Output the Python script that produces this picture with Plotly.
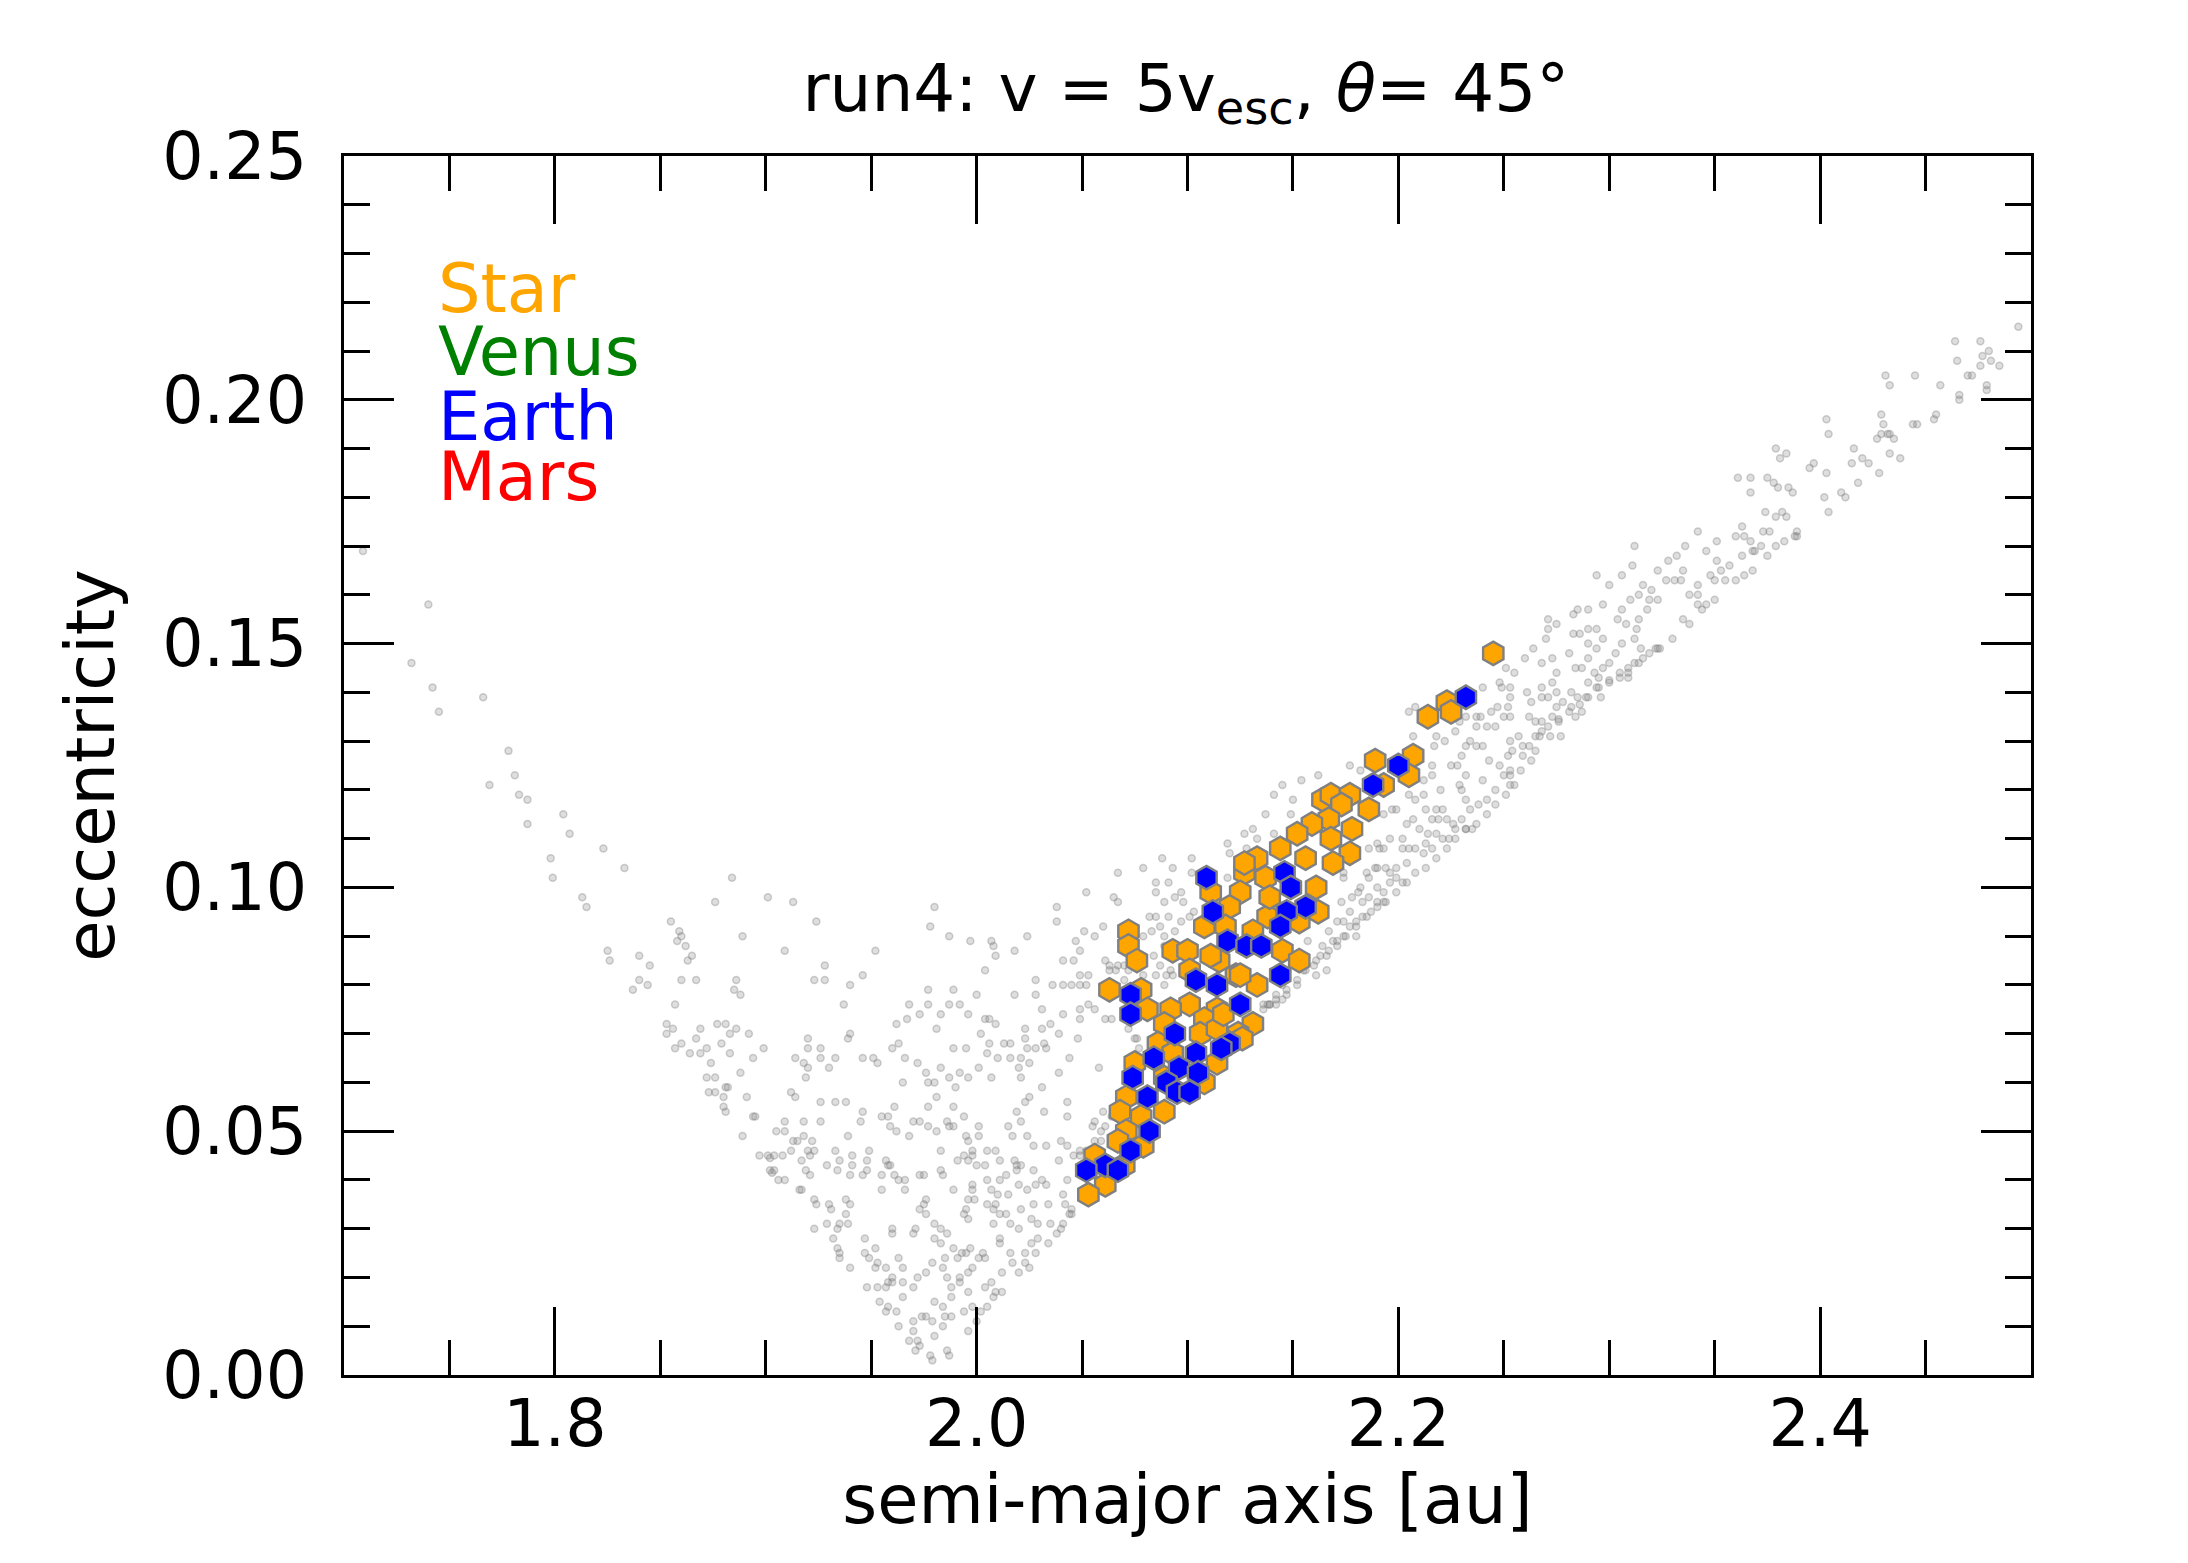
import plotly.graph_objects as go

# ---------------- data (semi-major axis [au], eccentricity) ----------------
gray_left_arm = [
    (1.709,0.169),(1.740,0.158),(1.732,0.146),(1.742,0.141),(1.766,0.139),(1.745,0.136),
    (1.778,0.128),(1.781,0.123),(1.769,0.121),(1.783,0.119),(1.787,0.118),(1.804,0.115),
    (1.787,0.113),(1.807,0.111),(1.823,0.108),(1.798,0.106),(1.799,0.102),(1.833,0.104),
    (1.884,0.102),(1.813,0.098),(1.815,0.096),(1.876,0.097),(1.901,0.098),(1.913,0.097),
    (1.924,0.093),(1.855,0.093),(1.859,0.091),(1.860,0.090),(1.858,0.089),(1.862,0.088),
    (1.889,0.090),(1.909,0.087),(1.952,0.087),(1.825,0.087),(1.826,0.085),(1.840,0.086),
    (1.865,0.086),(1.863,0.085),(1.845,0.084),(1.928,0.084),(1.840,0.081),(1.860,0.081),
    (1.867,0.081),(1.886,0.081),(1.923,0.081),(1.928,0.081),(1.946,0.082),(1.837,0.079),
    (1.844,0.080),(1.940,0.080),(1.885,0.079),(1.888,0.078),(1.857,0.076),(1.937,0.076),
]

gray_bottom = [
    (1.968,0.076),(1.973,0.074),(1.977,0.076),(1.967,0.073),(1.962,0.072),(1.983,0.074),
    (1.987,0.076),(1.992,0.076),(1.996,0.074),(2.004,0.073),(2.009,0.072),(2.006,0.073),
    (2.031,0.075),(2.035,0.072),(2.031,0.071),(2.023,0.071),(1.981,0.071),(1.853,0.072),
    (1.856,0.071),(1.853,0.070),(1.869,0.071),(1.877,0.072),(1.881,0.072),(1.886,0.071),
    (1.883,0.070),(1.892,0.070),(2.002,0.070),
    (1.857,0.067),(1.860,0.068),(1.864,0.066),(1.867,0.069),(1.872,0.067),(1.869,0.066),
    (1.879,0.068),(1.883,0.066),(1.874,0.064),(1.894,0.065),(1.899,0.067),(1.920,0.069),
    (1.920,0.067),(1.926,0.067),(1.926,0.065),(1.914,0.065),(1.918,0.064),(1.920,0.063),
    (1.930,0.063),(1.933,0.065),(1.939,0.069),(1.940,0.070),(1.946,0.065),(1.951,0.065),
    (1.953,0.064),(1.960,0.067),(1.963,0.068),(1.966,0.065),(1.972,0.064),(1.989,0.067),
    (1.995,0.067),(2.006,0.068),(2.005,0.066),(2.010,0.065),(2.013,0.068),(2.016,0.068),
    (2.023,0.069),(2.024,0.067),(2.028,0.067),(2.033,0.067),(2.016,0.065),(2.021,0.065),
    (2.025,0.064),(2.032,0.068),
    (1.872,0.061),(1.876,0.061),(1.881,0.059),(1.888,0.062),(1.882,0.059),(1.873,0.058),
    (1.876,0.058),(1.880,0.057),(1.891,0.057),(1.919,0.061),(1.912,0.058),(1.914,0.057),
    (1.976,0.062),(1.977,0.060),(1.980,0.060),(1.983,0.063),(1.987,0.061),(1.990,0.059),
    (1.992,0.062),(1.996,0.061),(2.001,0.063),(2.007,0.061),(2.020,0.063),(2.021,0.061),
    (1.965,0.060),(1.981,0.057),(2.031,0.059),(2.025,0.057),
    (1.880,0.055),(1.881,0.054),(1.894,0.053),(1.895,0.053),(1.889,0.049),(1.909,0.052),
    (1.918,0.052),(1.926,0.052),(1.926,0.056),(1.933,0.056),(1.938,0.056),(1.945,0.052),
    (1.946,0.054),(1.955,0.053),(1.958,0.053),(1.959,0.051),(1.961,0.055),(1.962,0.050),
    (1.968,0.049),(1.977,0.055),(1.989,0.055),(1.970,0.052),(1.973,0.052),(1.977,0.051),
    (1.981,0.050),(1.986,0.052),(1.987,0.051),(1.989,0.051),(1.994,0.053),(2.001,0.051),
    (2.019,0.054),(2.021,0.052),(2.015,0.051),(2.017,0.049),(2.024,0.049),(2.023,0.056),
    (2.032,0.054),(1.939,0.049),
    (1.905,0.050),(1.909,0.050),(1.913,0.048),(1.915,0.048),(1.918,0.049),(1.922,0.048),
    (1.923,0.046),(1.920,0.046),(1.921,0.045),(1.917,0.044),(1.897,0.045),(1.904,0.045),
    (1.901,0.045),(1.902,0.0445),(1.908,0.045),(1.912,0.046),(1.933,0.046),(1.941,0.045),
    (1.949,0.046),(1.948,0.044),(1.957,0.044),(1.983,0.046),(1.995,0.049),(1.996,0.048),
    (1.998,0.046),(1.998,0.045),(2.001,0.049),(2.005,0.046),(2.009,0.046),(2.011,0.044),
    (2.018,0.044),(2.027,0.047),(2.033,0.047),(1.991,0.044),(1.996,0.044),(1.994,0.045),
    (1.902,0.042),(1.904,0.042),(1.903,0.0415),(1.906,0.040),(1.909,0.040),(1.919,0.042),
    (1.921,0.041),(1.929,0.043),(1.934,0.042),(1.935,0.044),(1.941,0.043),(1.940,0.041),
    (1.946,0.041),(1.948,0.042),(1.955,0.041),(1.958,0.043),(1.959,0.043),(1.961,0.041),
    (1.963,0.040),(1.966,0.040),(1.975,0.041),(1.973,0.041),(1.983,0.042),(1.984,0.041),
    (2.000,0.043),(2.004,0.043),(2.005,0.040),(2.011,0.040),(2.014,0.041),(2.019,0.043),
    (2.021,0.043),(2.019,0.042),(2.027,0.042),(1.989,0.038),(1.955,0.038),(1.966,0.038),
    (1.998,0.039),(1.998,0.038),(2.007,0.038),(2.010,0.037),(2.015,0.037),(2.020,0.039),
    (2.024,0.038),(2.028,0.039),(2.031,0.040),(2.033,0.039),(1.916,0.038),(1.917,0.038),
    (1.923,0.036),(1.924,0.035),(1.930,0.035),(1.931,0.034),(1.938,0.036),(1.940,0.035),
    (1.938,0.033),(1.976,0.036),(1.973,0.034),(1.975,0.035),(1.995,0.034),(1.996,0.036),
    (1.999,0.036),(1.994,0.033),(1.996,0.032),(2.005,0.035),(2.008,0.034),(2.009,0.035),
    (2.011,0.033),(2.014,0.033),(2.021,0.034),(2.027,0.035),(2.034,0.035),(1.923,0.030),
    (1.929,0.031),(1.935,0.031),(1.939,0.031),(1.976,0.033),(1.980,0.031),(1.960,0.030),
    (1.971,0.030),(2.008,0.031),(2.016,0.031),(2.020,0.030),(2.026,0.032),(2.029,0.031),
    (2.035,0.031),
    (1.934,0.030),(1.932,0.028),(1.947,0.028),(1.960,0.029),(1.970,0.029),(1.983,0.030),
    (1.986,0.029),(1.980,0.028),(1.983,0.027),(1.934,0.026),(1.935,0.025),(1.935,0.024),
    (1.947,0.025),(1.949,0.024),(1.952,0.026),(1.953,0.023),(1.963,0.024),(1.989,0.026),
    (1.993,0.025),(1.995,0.025),(1.997,0.026),(2.001,0.024),(2.003,0.025),(2.004,0.024),
    (2.011,0.028),(2.011,0.027),(2.016,0.025),(2.023,0.025),(2.026,0.027),(2.028,0.025),
    (2.029,0.028),(2.034,0.027),(1.985,0.024),(1.991,0.024),
    (1.940,0.022),(1.952,0.022),(1.957,0.022),(1.965,0.022),(1.960,0.020),(1.958,0.019),
    (1.976,0.021),(1.979,0.023),(1.984,0.022),(1.986,0.020),(1.992,0.020),(1.996,0.021),
    (1.998,0.022),(2.012,0.021),(2.017,0.023),(2.020,0.021),(2.023,0.023),(2.025,0.022),
    (1.948,0.018),(1.953,0.018),(1.957,0.018),(1.960,0.019),(1.965,0.019),(1.970,0.018),
    (1.972,0.020),(1.988,0.018),(1.992,0.019),(1.996,0.017),(2.004,0.018),(2.007,0.019),
    (2.009,0.017),(2.012,0.017),(2.008,0.016),
    (1.954,0.015),(1.958,0.014),(1.957,0.013),(1.962,0.013),(1.965,0.016),(1.980,0.015),
    (1.984,0.014),(1.988,0.016),(1.994,0.013),(1.998,0.014),(2.002,0.013),(2.005,0.014),
    (1.963,0.010),(1.970,0.011),(1.974,0.012),(1.976,0.012),(1.979,0.011),(1.985,0.012),
    (1.988,0.012),(1.984,0.010),(1.970,0.009),(1.996,0.009),(2.000,0.011),
    (1.968,0.007),(1.972,0.007),(1.973,0.006),(1.971,0.005),(1.980,0.008),(1.986,0.005),
    (1.987,0.004),(1.978,0.004),(1.979,0.003),
]

gray_middle = [
    (2.088,0.106),(2.079,0.104),(2.093,0.104),(2.067,0.103),(2.085,0.101),(2.091,0.101),
    (2.052,0.099),(2.085,0.099),(2.065,0.098),(2.067,0.097),(2.089,0.097),(2.094,0.098),
    (1.980,0.096),(2.038,0.096),(2.038,0.093),(1.978,0.092),(1.987,0.090),(1.997,0.089),
    (2.007,0.089),(2.008,0.088),(2.009,0.086),(2.018,0.087),(2.024,0.090),(2.051,0.091),
    (2.047,0.089),(2.056,0.090),(2.060,0.092),(2.082,0.094),(2.085,0.094),(2.091,0.094),
    (2.087,0.092),(2.083,0.091),(2.089,0.090),(2.079,0.090),(2.049,0.087),(2.041,0.085),
    (2.046,0.085),(2.061,0.085),(2.063,0.084),(2.067,0.084),(2.070,0.084),(2.072,0.083),
    (2.084,0.086),(2.087,0.084),(2.092,0.083),(2.090,0.082),(2.093,0.082),(2.004,0.083),
    (2.028,0.081),(2.036,0.080),(2.041,0.080),(2.045,0.080),(2.049,0.080),(2.052,0.080),
    (2.053,0.082),(2.049,0.082),(2.063,0.083),(2.066,0.083),(2.070,0.081),(2.079,0.082),
    (2.085,0.082),(2.089,0.080),(1.977,0.079),(1.989,0.079),(2.000,0.078),(2.018,0.078),
    (2.028,0.078),(2.094,0.091),(2.089,0.088),
]

gray_lower_band = [
    (2.041,0.074),(2.049,0.075),(2.053,0.076),(2.056,0.075),(2.061,0.073),(2.064,0.073),
    (2.049,0.073),(2.048,0.069),(2.039,0.070),(2.044,0.065),(2.058,0.063),(2.039,0.062),
    (2.072,0.071),(2.075,0.069),(2.077,0.067),(2.076,0.069),(2.043,0.056),(2.043,0.053),
    (2.060,0.054),(2.056,0.052),(2.055,0.051),(2.059,0.050),(2.061,0.051),(2.064,0.053),
    (2.040,0.048),(2.043,0.047),(2.049,0.046),(2.052,0.046),(2.059,0.048),(2.056,0.048),
    (2.046,0.045),(2.049,0.045),(2.039,0.044),(2.043,0.040),(2.041,0.037),(2.045,0.034),
    (2.045,0.033),(2.044,0.033),(2.040,0.030),(2.038,0.029),(2.142,0.076),(2.139,0.076),
    (2.136,0.075),(2.145,0.077),(2.041,0.031),(2.042,0.035),
]

gray_band = [
    (2.251,0.145),(2.255,0.144),(2.240,0.141),(2.248,0.142),(2.249,0.141),(2.253,0.141),
    (2.253,0.139),(2.252,0.137),(2.247,0.137),(2.244,0.136),(2.239,0.135),(2.250,0.135),
    (2.253,0.135),(2.205,0.136),(2.208,0.137),(2.237,0.135),(2.232,0.135),(2.229,0.134),
    (2.227,0.132),(2.237,0.133),(2.242,0.133),(2.246,0.133),(2.207,0.131),(2.218,0.131),
    (2.217,0.129),(2.222,0.130),(2.234,0.130),(2.237,0.129),(2.232,0.129),(2.230,0.127),
    (2.240,0.129),(2.253,0.130),(2.243,0.126),(2.248,0.125),(2.252,0.127),(2.254,0.128),
    (2.253,0.124),(2.250,0.123),(2.253,0.123),(2.240,0.122),(2.232,0.123),(2.229,0.121),
    (2.230,0.120),(2.232,0.118),(2.225,0.125),(2.228,0.125),(2.216,0.125),(2.216,0.123),
    (2.212,0.122),(2.220,0.120),(2.212,0.119),(2.205,0.119),(2.208,0.118),(2.199,0.116),
    (2.197,0.116),(2.207,0.114),(2.213,0.116),(2.218,0.116),(2.221,0.116),(2.216,0.114),
    (2.219,0.114),(2.223,0.114),(2.226,0.113),(2.230,0.114),(2.234,0.116),(2.238,0.117),
    (2.242,0.118),(2.246,0.120),(2.253,0.121),(2.235,0.112),(2.232,0.112),(2.227,0.112),
    (2.224,0.110),(2.218,0.111),(2.214,0.111),(2.210,0.112),(2.204,0.113),(2.193,0.115),
    (2.196,0.110),(2.191,0.108),(2.186,0.108),(2.193,0.108),(2.202,0.110),(2.205,0.108),
    (2.208,0.108),(2.212,0.107),(2.213,0.109),(2.216,0.108),(2.221,0.110),(2.204,0.105),
    (2.199,0.104),(2.194,0.104),(2.190,0.104),(2.196,0.103),(2.199,0.102),(2.202,0.101),
    (2.196,0.101),(2.193,0.099),(2.190,0.100),(2.186,0.102),(2.182,0.100),(2.181,0.099),
    (2.178,0.098),(2.186,0.098),(2.190,0.097),(2.187,0.095),(2.183,0.094),(2.177,0.095),
    (2.174,0.093),(2.171,0.093),(2.180,0.093),(2.177,0.092),(2.174,0.090),(2.169,0.089),
    (2.167,0.091),(2.164,0.088),(2.163,0.086),(2.160,0.084),(2.167,0.087),(2.171,0.089),
    (2.183,0.097),(2.193,0.097),(2.180,0.090),(2.173,0.097),(2.174,0.102),(2.174,0.103),
    (2.185,0.103),(2.189,0.104),(2.177,0.125),(2.182,0.124),(2.162,0.123),(2.154,0.122),
    (2.145,0.121),(2.141,0.119),(2.150,0.118),(2.137,0.115),(2.149,0.115),(2.131,0.112),
    (2.127,0.111),(2.141,0.111),(2.133,0.110),(2.128,0.108),(2.119,0.109),(2.120,0.107),
    (2.102,0.106),(2.102,0.103),(2.119,0.102),(2.097,0.099),(2.098,0.097),(2.103,0.095),
    (2.101,0.094),(2.097,0.093),(2.157,0.089),(2.166,0.083),(2.161,0.082),(2.155,0.083),
    (2.147,0.078),(2.142,0.078),(2.139,0.076),(2.136,0.076),(2.145,0.080),(2.152,0.080),
    (2.190,0.109),(2.202,0.108),
    (2.138,0.076),(2.142,0.077),(2.147,0.079),(2.152,0.081),(2.156,0.083),(2.161,0.085),
    (2.166,0.086),(2.171,0.088),(2.175,0.090),(2.180,0.092),(2.185,0.094),(2.190,0.096),
    (2.194,0.097),(2.199,0.099),(2.204,0.101),(2.208,0.103),(2.213,0.104),(2.218,0.106),
    (2.223,0.108),(2.227,0.110),(2.232,0.112),(2.237,0.113),(2.242,0.115),(2.246,0.117),
    (2.251,0.119),(2.255,0.121),
]

gray_upper_band = [
    (2.342,0.173),(2.312,0.170),(2.363,0.174),(2.364,0.172),(2.360,0.172),(2.367,0.171),
    (2.351,0.171),(2.336,0.170),(2.346,0.169),(2.351,0.167),(2.332,0.168),(2.328,0.167),
    (2.323,0.165),(2.335,0.165),(2.334,0.163),(2.327,0.163),(2.331,0.163),(2.294,0.164),
    (2.300,0.162),(2.311,0.166),(2.306,0.164),(2.357,0.166),(2.353,0.165),(2.348,0.164),
    (2.342,0.162),(2.338,0.160),(2.342,0.160),(2.350,0.163),(2.355,0.163),(2.360,0.163),
    (2.364,0.164),(2.368,0.165),(2.363,0.168),(2.368,0.169),(2.316,0.162),(2.320,0.161),
    (2.314,0.160),(2.323,0.159),(2.319,0.159),(2.310,0.159),(2.306,0.157),(2.304,0.155),
    (2.308,0.154),(2.314,0.155),(2.313,0.153),(2.318,0.157),(2.330,0.151),(2.335,0.155),
    (2.338,0.154),(2.344,0.157),(2.346,0.158),(2.342,0.158),(2.350,0.159),(2.297,0.158),
    (2.290,0.157),(2.285,0.157),(2.283,0.156),(2.271,0.155),(2.275,0.154),(2.271,0.153),
    (2.290,0.153),(2.294,0.153),(2.283,0.152),(2.286,0.152),(2.270,0.151),(2.290,0.150),
    (2.297,0.151),(2.294,0.149),(2.306,0.150),(2.312,0.151),(2.315,0.149),(2.322,0.149),
    (2.324,0.149),(2.316,0.147),(2.312,0.146),(2.309,0.144),(2.303,0.148),(2.300,0.146),
    (2.297,0.145),(2.290,0.147),(2.281,0.148),(2.273,0.147),(2.268,0.146),(2.264,0.149),
    (2.260,0.147),(2.275,0.144),(2.273,0.142),(2.268,0.141),(2.268,0.139),(2.271,0.139),
    (2.275,0.140),(2.284,0.145),(2.287,0.145),(2.293,0.144),(2.295,0.143),(2.300,0.142),
    (2.305,0.143),(2.309,0.143),(2.282,0.140),(2.285,0.139),(2.282,0.137),(2.284,0.135),
    (2.287,0.136),(2.289,0.139),(2.296,0.139),(2.290,0.142),(2.294,0.141),(2.278,0.138),
    (2.275,0.137),(2.261,0.140),(2.263,0.138),(2.262,0.135),(2.265,0.134),(2.268,0.134),
    (2.273,0.135),(2.276,0.134),(2.277,0.131),(2.272,0.131),(2.268,0.132),(2.265,0.131),
    (2.262,0.129),(2.259,0.129),(2.265,0.128),(2.263,0.126),(2.258,0.124),(2.259,0.127),
    (2.257,0.131),
    (2.267,0.131),(2.271,0.133),(2.276,0.1345),(2.281,0.136),(2.286,0.1375),(2.290,0.139),
    (2.295,0.141),(2.300,0.1425),(2.305,0.144),(2.309,0.145),(2.314,0.146),(2.319,0.148),
    (2.323,0.149),
]

gray_top_band = [
    (2.494,0.215),(2.464,0.212),(2.476,0.212),(2.480,0.210),(2.465,0.208),(2.477,0.209),
    (2.476,0.207),(2.481,0.208),(2.485,0.207),(2.470,0.205),(2.472,0.205),(2.479,0.203),
    (2.479,0.202),(2.466,0.201),(2.466,0.200),(2.457,0.203),(2.445,0.205),(2.431,0.205),
    (2.433,0.203),(2.429,0.197),(2.430,0.195),(2.455,0.197),(2.454,0.196),(2.446,0.195),
    (2.444,0.195),(2.429,0.193),(2.432,0.193),(2.433,0.193),(2.427,0.192),(2.435,0.192),
    (2.403,0.196),(2.404,0.193),(2.416,0.190),(2.415,0.187),(2.420,0.188),(2.423,0.187),
    (2.433,0.189),(2.438,0.188),(2.428,0.185),(2.418,0.183),(2.379,0.190),(2.381,0.188),
    (2.384,0.189),(2.397,0.187),(2.395,0.186),(2.403,0.185),(2.361,0.184),(2.367,0.184),
    (2.367,0.181),(2.375,0.184),(2.378,0.183),(2.380,0.182),(2.385,0.182),(2.387,0.181),
    (2.402,0.180),(2.410,0.181),(2.412,0.180),(2.404,0.177),(2.374,0.177),(2.382,0.177),
    (2.379,0.176),(2.384,0.176),(2.389,0.173),(2.388,0.172),(2.389,0.172),(2.383,0.171),
    (2.379,0.170),(2.375,0.168),(2.376,0.173),(2.373,0.173),(2.372,0.170),(2.369,0.169),
]

star_points = [
    (2.072,0.091),(2.072,0.088),(2.076,0.085),(2.093,0.087),(2.063,0.079),(2.078,0.079),
    (2.245,0.148),(2.214,0.135),(2.223,0.138),(2.225,0.136),(2.189,0.126),(2.207,0.127),
    (2.205,0.123),(2.193,0.121),(2.164,0.118),(2.168,0.119),(2.177,0.119),(2.173,0.117),
    (2.186,0.116),(2.167,0.114),(2.159,0.113),(2.178,0.112),(2.168,0.110),(2.177,0.107),
    (2.152,0.111),(2.144,0.108),(2.156,0.106),(2.169,0.105),(2.133,0.106),(2.127,0.103),
    (2.137,0.102),(2.161,0.100),(2.125,0.099),(2.111,0.099),(2.120,0.096),(2.162,0.095),
    (2.138,0.094),(2.153,0.093),(2.108,0.092),(2.131,0.091),(2.145,0.087),(2.153,0.085),
    (2.115,0.085),(2.100,0.087),(2.123,0.082),(2.133,0.080),(2.101,0.076),(2.114,0.075),
    (2.081,0.075),(2.092,0.075),(2.108,0.073),(2.131,0.072),(2.089,0.072),(2.106,0.070),
    (2.114,0.071),(2.124,0.070),(2.086,0.068),(2.093,0.066),(2.114,0.064),(2.075,0.064),
    (2.089,0.061),(2.108,0.060),(2.071,0.057),(2.068,0.054),(2.078,0.053),(2.089,0.054),
    (2.071,0.050),(2.067,0.048),(2.079,0.047),(2.056,0.045),(2.061,0.039),(2.053,0.037),
    (2.070,0.043),
    (2.118,0.092),(2.111,0.086),(2.101,0.083),(2.117,0.074),(2.126,0.069),(2.125,0.082),
    (2.139,0.098),(2.127,0.105),
]

earth_points = [
    (2.073,0.078),(2.232,0.139),(2.200,0.125),(2.188,0.121),(2.146,0.103),(2.149,0.100),
    (2.109,0.102),(2.112,0.095),(2.156,0.096),(2.147,0.095),(2.144,0.092),(2.119,0.089),
    (2.128,0.088),(2.135,0.088),(2.144,0.082),(2.104,0.081),(2.114,0.080),(2.125,0.076),
    (2.073,0.074),(2.094,0.070),(2.120,0.068),(2.116,0.067),(2.104,0.066),(2.084,0.065),
    (2.096,0.063),(2.105,0.062),(2.074,0.061),(2.090,0.060),(2.095,0.058),(2.101,0.058),
    (2.081,0.057),(2.082,0.050),(2.073,0.046),(2.061,0.043),(2.052,0.042),(2.067,0.042),
]

venus_points = []
mars_points = []

legend_labels = ["Star", "Venus", "Earth", "Mars"]
legend_colors = ["orange", "green", "blue", "red"]

x_ticks = [1.8, 2.0, 2.2, 2.4]
y_ticks = [0.00, 0.05, 0.10, 0.15, 0.20, 0.25]

# ---------------- figure ----------------
FONT = "DejaVu Sans"
gray_all = (gray_left_arm + gray_bottom + gray_middle + gray_lower_band
            + gray_band + gray_upper_band + gray_top_band)

fig = go.Figure()
fig.add_trace(go.Scatter(
    x=[p[0] for p in gray_all], y=[p[1] for p in gray_all], mode="markers",
    marker=dict(size=7, color="rgba(128,128,128,0.26)",
                line=dict(color="rgba(128,128,128,0.36)", width=1.5)),
    showlegend=False, hoverinfo="skip"))

def hex_trace(points, color):
    return go.Scatter(
        x=[p[0] for p in points], y=[p[1] for p in points], mode="markers",
        marker=dict(symbol="hexagon", size=23.5, color=color,
                    line=dict(color="gray", width=2.4)),
        showlegend=False)

if venus_points:
    fig.add_trace(hex_trace(venus_points, "green"))
if mars_points:
    fig.add_trace(hex_trace(mars_points, "red"))
fig.add_trace(hex_trace(star_points, "orange"))
fig.add_trace(hex_trace(earth_points, "blue"))

legend_y = [0.8913, 0.8392, 0.7863, 0.7367]
for lab, col, yy in zip(legend_labels, legend_colors, legend_y):
    fig.add_annotation(x=0.0548, y=yy, xref="paper", yref="paper", text=lab,
                       showarrow=False, xanchor="left", yanchor="middle",
                       height=60, valign="middle",
                       font=dict(family=FONT, size=67, color=col))

fig.update_layout(
    width=2188, height=1563, autosize=False,
    margin=dict(l=344, r=157, t=156, b=188),
    paper_bgcolor="white", plot_bgcolor="white",
    font=dict(family=FONT, size=67, color="black"),
    title=dict(text="run4: v = 5v<sub>esc</sub>, <i>θ</i>= 45°",
               x=0.542, xanchor="center", y=0.944, yanchor="middle",
               font=dict(family=FONT, size=66, color="black")),
)
fig.update_xaxes(
    range=[1.7, 2.5], tickvals=x_ticks, tickformat=".1f",
    showline=True, linecolor="black", linewidth=3, mirror="ticks",
    ticks="inside", ticklen=68, tickwidth=3, tickcolor="black",
    minor=dict(dtick=0.05, tick0=1.7, ticks="inside", ticklen=35, tickwidth=3,
               tickcolor="black", showgrid=False),
    showgrid=False, zeroline=False, ticklabelstandoff=-10,
    tickfont=dict(family=FONT, size=65, color="black"),
    title=dict(text="semi-major axis [au]", standoff=0,
               font=dict(family=FONT, size=67, color="black")),
)
fig.update_yaxes(
    range=[0, 0.25], tickvals=y_ticks, tickformat=".2f",
    showline=True, linecolor="black", linewidth=3, mirror="ticks",
    ticks="inside", ticklen=50, tickwidth=3, tickcolor="black",
    minor=dict(dtick=0.01, tick0=0, ticks="inside", ticklen=26, tickwidth=3,
               tickcolor="black", showgrid=False),
    showgrid=False, zeroline=False, ticklabelstandoff=21,
    tickfont=dict(family=FONT, size=65, color="black"),
    title=dict(text="eccentricity", standoff=26,
               font=dict(family=FONT, size=67, color="black")),
)

fig.write_html("out.html", post_script="document.body.style.margin='0';",
               config={"displayModeBar": False})
